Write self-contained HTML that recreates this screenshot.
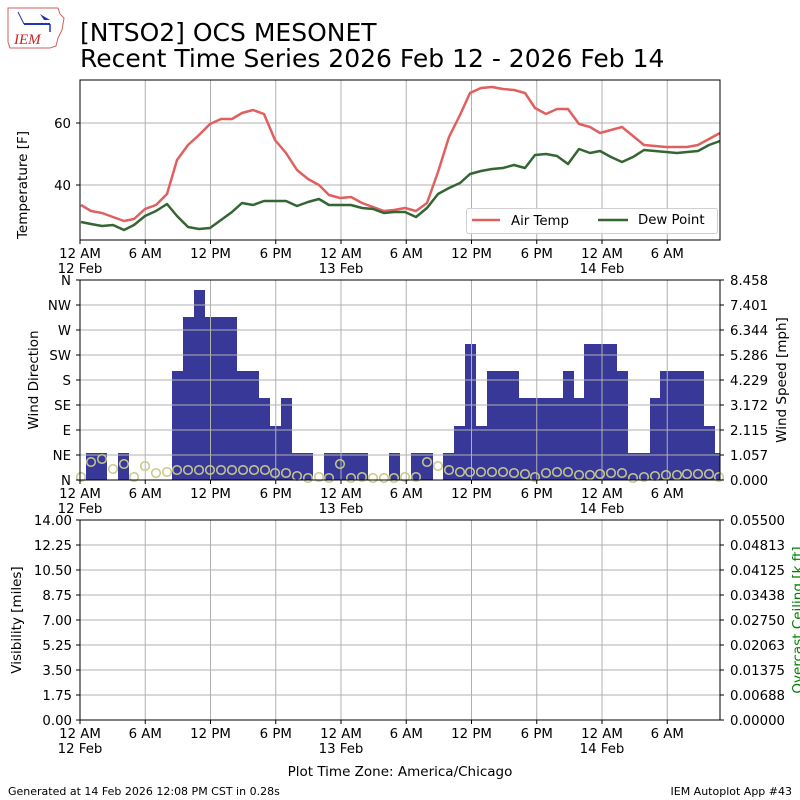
<!DOCTYPE html>
<html><head><meta charset="utf-8"><style>
body{margin:0;background:#fff;}
svg{display:block;font-family:"DejaVu Sans","Liberation Sans",sans-serif;}
</style></head><body>
<svg width="800" height="800" viewBox="0 0 800 800" xmlns="http://www.w3.org/2000/svg">
<rect width="800" height="800" fill="#fff"/>
<g>
<path d="M8 8 L58 8 L60 14 L64 18 L62 30 L58 38 L56 46 L50 48 L10 48 L8 42 Z" fill="none" stroke="#d06060" stroke-width="1"/>
<text x="14" y="44" font-family="Liberation Serif,serif" font-style="italic" font-size="15" fill="#cc2222">IEM</text>
<line x1="24" y1="24" x2="50" y2="24" stroke="#2233bb" stroke-width="2"/>
<path d="M40 14 L50 20 L44 20 Z" fill="#2233bb"/>
<line x1="18" y1="12" x2="24" y2="24" stroke="#2233bb" stroke-width="1"/>
<line x1="50" y1="24" x2="50" y2="32" stroke="#2233bb" stroke-width="1.5"/>
</g>
<text x="80" y="41" font-size="25">[NTSO2] OCS MESONET</text>
<text x="80" y="67" font-size="25">Recent Time Series 2026 Feb 12 - 2026 Feb 14</text>

<g stroke="#b0b0b0" stroke-width="1">
<line x1="145.25" y1="80" x2="145.25" y2="240"/><line x1="210.5" y1="80" x2="210.5" y2="240"/><line x1="275.75" y1="80" x2="275.75" y2="240"/><line x1="341" y1="80" x2="341" y2="240"/><line x1="406.25" y1="80" x2="406.25" y2="240"/><line x1="471.5" y1="80" x2="471.5" y2="240"/><line x1="536.75" y1="80" x2="536.75" y2="240"/><line x1="602" y1="80" x2="602" y2="240"/><line x1="667.25" y1="80" x2="667.25" y2="240"/>
<line x1="80" y1="123" x2="720" y2="123"/><line x1="80" y1="185" x2="720" y2="185"/>
</g>

<polyline fill="none" stroke="#e06060" stroke-width="2.5" stroke-linejoin="round" points="81,205 91,211 102,213 113,217 124,221 134,219 145,209 156,205 167,194 177,160 188,145 199,135 210,124 221,119 232,119 242,113 253,110 264,114 275,140 286,153 297,170 308,179 319,185 329,195 340,198 351,197 362,203 373,207 384,211 394,210 405,208 416,211 427,203 438,172 449,137 460,115 470,93 481,88 492,87 503,89 514,90 525,93 535,108 546,114 557,109 568,109 579,124 590,127 600,133 611,130 622,127 633,136 644,145 655,146 666,147 677,147 687,147 698,145 709,139 720,133"/>
<polyline fill="none" stroke="#336633" stroke-width="2.5" stroke-linejoin="round" points="81,222 91,224 102,226 113,225 124,230 134,225 145,216 156,211 167,204 177,216 188,227 199,229 210,228 221,220 232,212 242,203 253,205 264,201 275,201 286,201 297,206 308,202 319,199 329,205 340,205 351,205 362,208 373,209 384,213 394,212 405,212 416,217 427,208 438,194 449,188 460,183 470,174 481,171 492,169 503,168 514,165 525,168 535,155 546,154 557,156 568,164 579,149 590,153 600,151 611,157 622,162 633,157 644,150 655,151 666,152 677,153 687,152 698,151 709,145 720,141"/>
<rect x="80" y="80" width="640" height="160" fill="none" stroke="#000" stroke-width="1"/>
<rect x="466.5" y="208.5" width="251" height="25" rx="2" fill="#fff" fill-opacity="0.85" stroke="#d0d0d0"/>
<line x1="472" y1="220" x2="500" y2="220" stroke="#e06060" stroke-width="2.5"/>
<text x="511" y="225" font-size="13.3">Air Temp</text>
<line x1="598" y1="220" x2="628" y2="220" stroke="#336633" stroke-width="2.5"/>
<text x="638" y="224" font-size="13.3">Dew Point</text>
<g font-size="13.3" text-anchor="end">
<text x="71" y="128">60</text><text x="71" y="190">40</text>
</g>
<line x1="76" y1="123" x2="80" y2="123" stroke="#000"/><line x1="76" y1="185" x2="80" y2="185" stroke="#000"/>
<text transform="translate(27,185) rotate(-90)" font-size="13.5" text-anchor="middle">Temperature [F]</text>

<g fill="#383898">
<rect x="86" y="453" width="21" height="27"/><rect x="118" y="453" width="11" height="27"/>
<rect x="172" y="371" width="11" height="109"/><rect x="183" y="317" width="11" height="163"/><rect x="194" y="290" width="11" height="190"/><rect x="205" y="317" width="32" height="163"/>
<rect x="237" y="371" width="22" height="109"/><rect x="259" y="398" width="11" height="82"/><rect x="270" y="426" width="11" height="54"/><rect x="281" y="398" width="11" height="82"/><rect x="292" y="453" width="21" height="27"/>
<rect x="324" y="453" width="44" height="27"/><rect x="389" y="453" width="11" height="27"/>
<rect x="411" y="453" width="22" height="27"/><rect x="443" y="453" width="11" height="27"/><rect x="454" y="426" width="11" height="54"/><rect x="465" y="344" width="11" height="136"/><rect x="476" y="426" width="11" height="54"/>
<rect x="487" y="371" width="32" height="109"/><rect x="519" y="398" width="44" height="82"/><rect x="563" y="371" width="11" height="109"/><rect x="574" y="398" width="10" height="82"/><rect x="584" y="344" width="33" height="136"/><rect x="617" y="371" width="11" height="109"/>
<rect x="628" y="453" width="22" height="27"/><rect x="650" y="398" width="10" height="82"/><rect x="660" y="371" width="44" height="109"/><rect x="704" y="426" width="11" height="54"/><rect x="715" y="453" width="5" height="27"/>
</g>
<g stroke="#b0b0b0" stroke-width="1">
<line x1="145.25" y1="280" x2="145.25" y2="480"/><line x1="210.5" y1="280" x2="210.5" y2="480"/><line x1="275.75" y1="280" x2="275.75" y2="480"/><line x1="341" y1="280" x2="341" y2="480"/><line x1="406.25" y1="280" x2="406.25" y2="480"/><line x1="471.5" y1="280" x2="471.5" y2="480"/><line x1="536.75" y1="280" x2="536.75" y2="480"/><line x1="602" y1="280" x2="602" y2="480"/><line x1="667.25" y1="280" x2="667.25" y2="480"/>
<line x1="80" y1="305" x2="720" y2="305"/><line x1="80" y1="330" x2="720" y2="330"/><line x1="80" y1="355" x2="720" y2="355"/><line x1="80" y1="380" x2="720" y2="380"/><line x1="80" y1="405" x2="720" y2="405"/><line x1="80" y1="430" x2="720" y2="430"/><line x1="80" y1="455" x2="720" y2="455"/>
</g>
<g fill="none" stroke="#c8c88a" stroke-width="1.5">
<circle cx="81" cy="477" r="4.3"/><circle cx="91" cy="462" r="4.3"/><circle cx="102" cy="459" r="4.3"/><circle cx="113" cy="469" r="4.3"/><circle cx="124" cy="464" r="4.3"/><circle cx="134" cy="477" r="4.3"/><circle cx="145" cy="466" r="4.3"/><circle cx="156" cy="473" r="4.3"/><circle cx="167" cy="472" r="4.3"/>
<circle cx="177" cy="470" r="4.3"/><circle cx="188" cy="470" r="4.3"/><circle cx="199" cy="470" r="4.3"/><circle cx="210" cy="470" r="4.3"/><circle cx="221" cy="470" r="4.3"/><circle cx="232" cy="470" r="4.3"/><circle cx="243" cy="470" r="4.3"/><circle cx="254" cy="470" r="4.3"/><circle cx="265" cy="470" r="4.3"/>
<circle cx="275" cy="473" r="4.3"/><circle cx="286" cy="473" r="4.3"/><circle cx="297" cy="476" r="4.3"/><circle cx="308" cy="478" r="4.3"/><circle cx="319" cy="477" r="4.3"/><circle cx="329" cy="478" r="4.3"/><circle cx="340" cy="464" r="4.3"/><circle cx="351" cy="478" r="4.3"/><circle cx="362" cy="477" r="4.3"/><circle cx="373" cy="478" r="4.3"/><circle cx="384" cy="478" r="4.3"/><circle cx="394" cy="478" r="4.3"/><circle cx="405" cy="477" r="4.3"/>
<circle cx="416" cy="477" r="4.3"/><circle cx="427" cy="462" r="4.3"/><circle cx="438" cy="466" r="4.3"/><circle cx="449" cy="470" r="4.3"/><circle cx="460" cy="472" r="4.3"/><circle cx="470" cy="472" r="4.3"/><circle cx="481" cy="472" r="4.3"/><circle cx="492" cy="472" r="4.3"/><circle cx="503" cy="472" r="4.3"/><circle cx="514" cy="473" r="4.3"/><circle cx="525" cy="474" r="4.3"/><circle cx="535" cy="477" r="4.3"/><circle cx="546" cy="473" r="4.3"/><circle cx="557" cy="472" r="4.3"/><circle cx="568" cy="472" r="4.3"/><circle cx="579" cy="475" r="4.3"/><circle cx="590" cy="475" r="4.3"/><circle cx="600" cy="474" r="4.3"/><circle cx="611" cy="473" r="4.3"/><circle cx="622" cy="473" r="4.3"/><circle cx="633" cy="478" r="4.3"/><circle cx="644" cy="477" r="4.3"/><circle cx="655" cy="476" r="4.3"/><circle cx="666" cy="475" r="4.3"/><circle cx="677" cy="475" r="4.3"/><circle cx="687" cy="474" r="4.3"/><circle cx="698" cy="474" r="4.3"/><circle cx="709" cy="474" r="4.3"/><circle cx="719" cy="477" r="4.3"/>
</g>
<rect x="80" y="280" width="640" height="200" fill="none" stroke="#000"/>
<g font-size="13.3" text-anchor="end">
<text x="71" y="285">N</text><text x="71" y="310">NW</text><text x="71" y="335">W</text><text x="71" y="360">SW</text><text x="71" y="385">S</text><text x="71" y="410">SE</text><text x="71" y="435">E</text><text x="71" y="460">NE</text><text x="71" y="485">N</text>
</g>
<g font-size="13.3">
<text x="730" y="285">8.458</text><text x="730" y="310">7.401</text><text x="730" y="335">6.344</text><text x="730" y="360">5.286</text><text x="730" y="385">4.229</text><text x="730" y="410">3.172</text><text x="730" y="435">2.115</text><text x="730" y="460">1.057</text><text x="730" y="485">0.000</text>
</g>
<g stroke="#000">
<line x1="76" y1="280" x2="80" y2="280"/><line x1="76" y1="305" x2="80" y2="305"/><line x1="76" y1="330" x2="80" y2="330"/><line x1="76" y1="355" x2="80" y2="355"/><line x1="76" y1="380" x2="80" y2="380"/><line x1="76" y1="405" x2="80" y2="405"/><line x1="76" y1="430" x2="80" y2="430"/><line x1="76" y1="455" x2="80" y2="455"/><line x1="76" y1="480" x2="80" y2="480"/>
<line x1="720" y1="280" x2="724" y2="280"/><line x1="720" y1="305" x2="724" y2="305"/><line x1="720" y1="330" x2="724" y2="330"/><line x1="720" y1="355" x2="724" y2="355"/><line x1="720" y1="380" x2="724" y2="380"/><line x1="720" y1="405" x2="724" y2="405"/><line x1="720" y1="430" x2="724" y2="430"/><line x1="720" y1="455" x2="724" y2="455"/><line x1="720" y1="480" x2="724" y2="480"/>
</g>
<text transform="translate(38,380) rotate(-90)" font-size="13.5" text-anchor="middle">Wind Direction</text>
<text transform="translate(786,380) rotate(-90)" font-size="13.5" text-anchor="middle">Wind Speed [mph]</text>

<g stroke="#b0b0b0" stroke-width="1">
<line x1="145.25" y1="520" x2="145.25" y2="720"/><line x1="210.5" y1="520" x2="210.5" y2="720"/><line x1="275.75" y1="520" x2="275.75" y2="720"/><line x1="341" y1="520" x2="341" y2="720"/><line x1="406.25" y1="520" x2="406.25" y2="720"/><line x1="471.5" y1="520" x2="471.5" y2="720"/><line x1="536.75" y1="520" x2="536.75" y2="720"/><line x1="602" y1="520" x2="602" y2="720"/><line x1="667.25" y1="520" x2="667.25" y2="720"/>
<line x1="80" y1="545" x2="720" y2="545"/><line x1="80" y1="570" x2="720" y2="570"/><line x1="80" y1="595" x2="720" y2="595"/><line x1="80" y1="620" x2="720" y2="620"/><line x1="80" y1="645" x2="720" y2="645"/><line x1="80" y1="670" x2="720" y2="670"/><line x1="80" y1="695" x2="720" y2="695"/>
</g>
<rect x="80" y="520" width="640" height="200" fill="none" stroke="#000"/>
<g font-size="13.3" text-anchor="end">
<text x="72" y="525">14.00</text><text x="72" y="550">12.25</text><text x="72" y="575">10.50</text><text x="72" y="600">8.75</text><text x="72" y="625">7.00</text><text x="72" y="650">5.25</text><text x="72" y="675">3.50</text><text x="72" y="700">1.75</text><text x="72" y="725">0.00</text>
</g>
<g font-size="13.3">
<text x="730" y="525">0.05500</text><text x="730" y="550">0.04813</text><text x="730" y="575">0.04125</text><text x="730" y="600">0.03438</text><text x="730" y="625">0.02750</text><text x="730" y="650">0.02063</text><text x="730" y="675">0.01375</text><text x="730" y="700">0.00688</text><text x="730" y="725">0.00000</text>
</g>
<g stroke="#000">
<line x1="76" y1="520" x2="80" y2="520"/><line x1="76" y1="545" x2="80" y2="545"/><line x1="76" y1="570" x2="80" y2="570"/><line x1="76" y1="595" x2="80" y2="595"/><line x1="76" y1="620" x2="80" y2="620"/><line x1="76" y1="645" x2="80" y2="645"/><line x1="76" y1="670" x2="80" y2="670"/><line x1="76" y1="695" x2="80" y2="695"/><line x1="76" y1="720" x2="80" y2="720"/>
<line x1="720" y1="520" x2="724" y2="520"/><line x1="720" y1="545" x2="724" y2="545"/><line x1="720" y1="570" x2="724" y2="570"/><line x1="720" y1="595" x2="724" y2="595"/><line x1="720" y1="620" x2="724" y2="620"/><line x1="720" y1="645" x2="724" y2="645"/><line x1="720" y1="670" x2="724" y2="670"/><line x1="720" y1="695" x2="724" y2="695"/><line x1="720" y1="720" x2="724" y2="720"/>
</g>
<text transform="translate(21,620) rotate(-90)" font-size="13.5" text-anchor="middle">Visibility [miles]</text>
<text transform="translate(802,620) rotate(-90)" font-size="13.5" text-anchor="middle" fill="#008000">Overcast Ceiling [k ft]</text>

<g font-size="13.3" text-anchor="middle">
<g>
<text x="80" y="258">12 AM</text><text x="80" y="273">12 Feb</text>
<text x="145.25" y="258">6 AM</text><text x="210.5" y="258">12 PM</text><text x="275.75" y="258">6 PM</text>
<text x="341" y="258">12 AM</text><text x="341" y="273">13 Feb</text>
<text x="406.25" y="258">6 AM</text><text x="471.5" y="258">12 PM</text><text x="536.75" y="258">6 PM</text>
<text x="602" y="258">12 AM</text><text x="602" y="273">14 Feb</text>
<text x="667.25" y="258">6 AM</text>
</g>
<g transform="translate(0,240)">
<text x="80" y="258">12 AM</text><text x="80" y="273">12 Feb</text>
<text x="145.25" y="258">6 AM</text><text x="210.5" y="258">12 PM</text><text x="275.75" y="258">6 PM</text>
<text x="341" y="258">12 AM</text><text x="341" y="273">13 Feb</text>
<text x="406.25" y="258">6 AM</text><text x="471.5" y="258">12 PM</text><text x="536.75" y="258">6 PM</text>
<text x="602" y="258">12 AM</text><text x="602" y="273">14 Feb</text>
<text x="667.25" y="258">6 AM</text>
</g>
<g transform="translate(0,480)">
<text x="80" y="258">12 AM</text><text x="80" y="273">12 Feb</text>
<text x="145.25" y="258">6 AM</text><text x="210.5" y="258">12 PM</text><text x="275.75" y="258">6 PM</text>
<text x="341" y="258">12 AM</text><text x="341" y="273">13 Feb</text>
<text x="406.25" y="258">6 AM</text><text x="471.5" y="258">12 PM</text><text x="536.75" y="258">6 PM</text>
<text x="602" y="258">12 AM</text><text x="602" y="273">14 Feb</text>
<text x="667.25" y="258">6 AM</text>
</g>
</g>
<g stroke="#000">
<g id="xt"><line x1="80" y1="240" x2="80" y2="244"/><line x1="145.25" y1="240" x2="145.25" y2="244"/><line x1="210.5" y1="240" x2="210.5" y2="244"/><line x1="275.75" y1="240" x2="275.75" y2="244"/><line x1="341" y1="240" x2="341" y2="244"/><line x1="406.25" y1="240" x2="406.25" y2="244"/><line x1="471.5" y1="240" x2="471.5" y2="244"/><line x1="536.75" y1="240" x2="536.75" y2="244"/><line x1="602" y1="240" x2="602" y2="244"/><line x1="667.25" y1="240" x2="667.25" y2="244"/></g>
<use href="#xt" transform="translate(0,240)"/>
<use href="#xt" transform="translate(0,480)"/>
</g>
<text x="400" y="776" font-size="13.5" text-anchor="middle">Plot Time Zone: America/Chicago</text>
<text x="8" y="795" font-size="11">Generated at 14 Feb 2026 12:08 PM CST in 0.28s</text>
<text x="792" y="795" font-size="11" text-anchor="end">IEM Autoplot App #43</text>
</svg>
</body></html>
